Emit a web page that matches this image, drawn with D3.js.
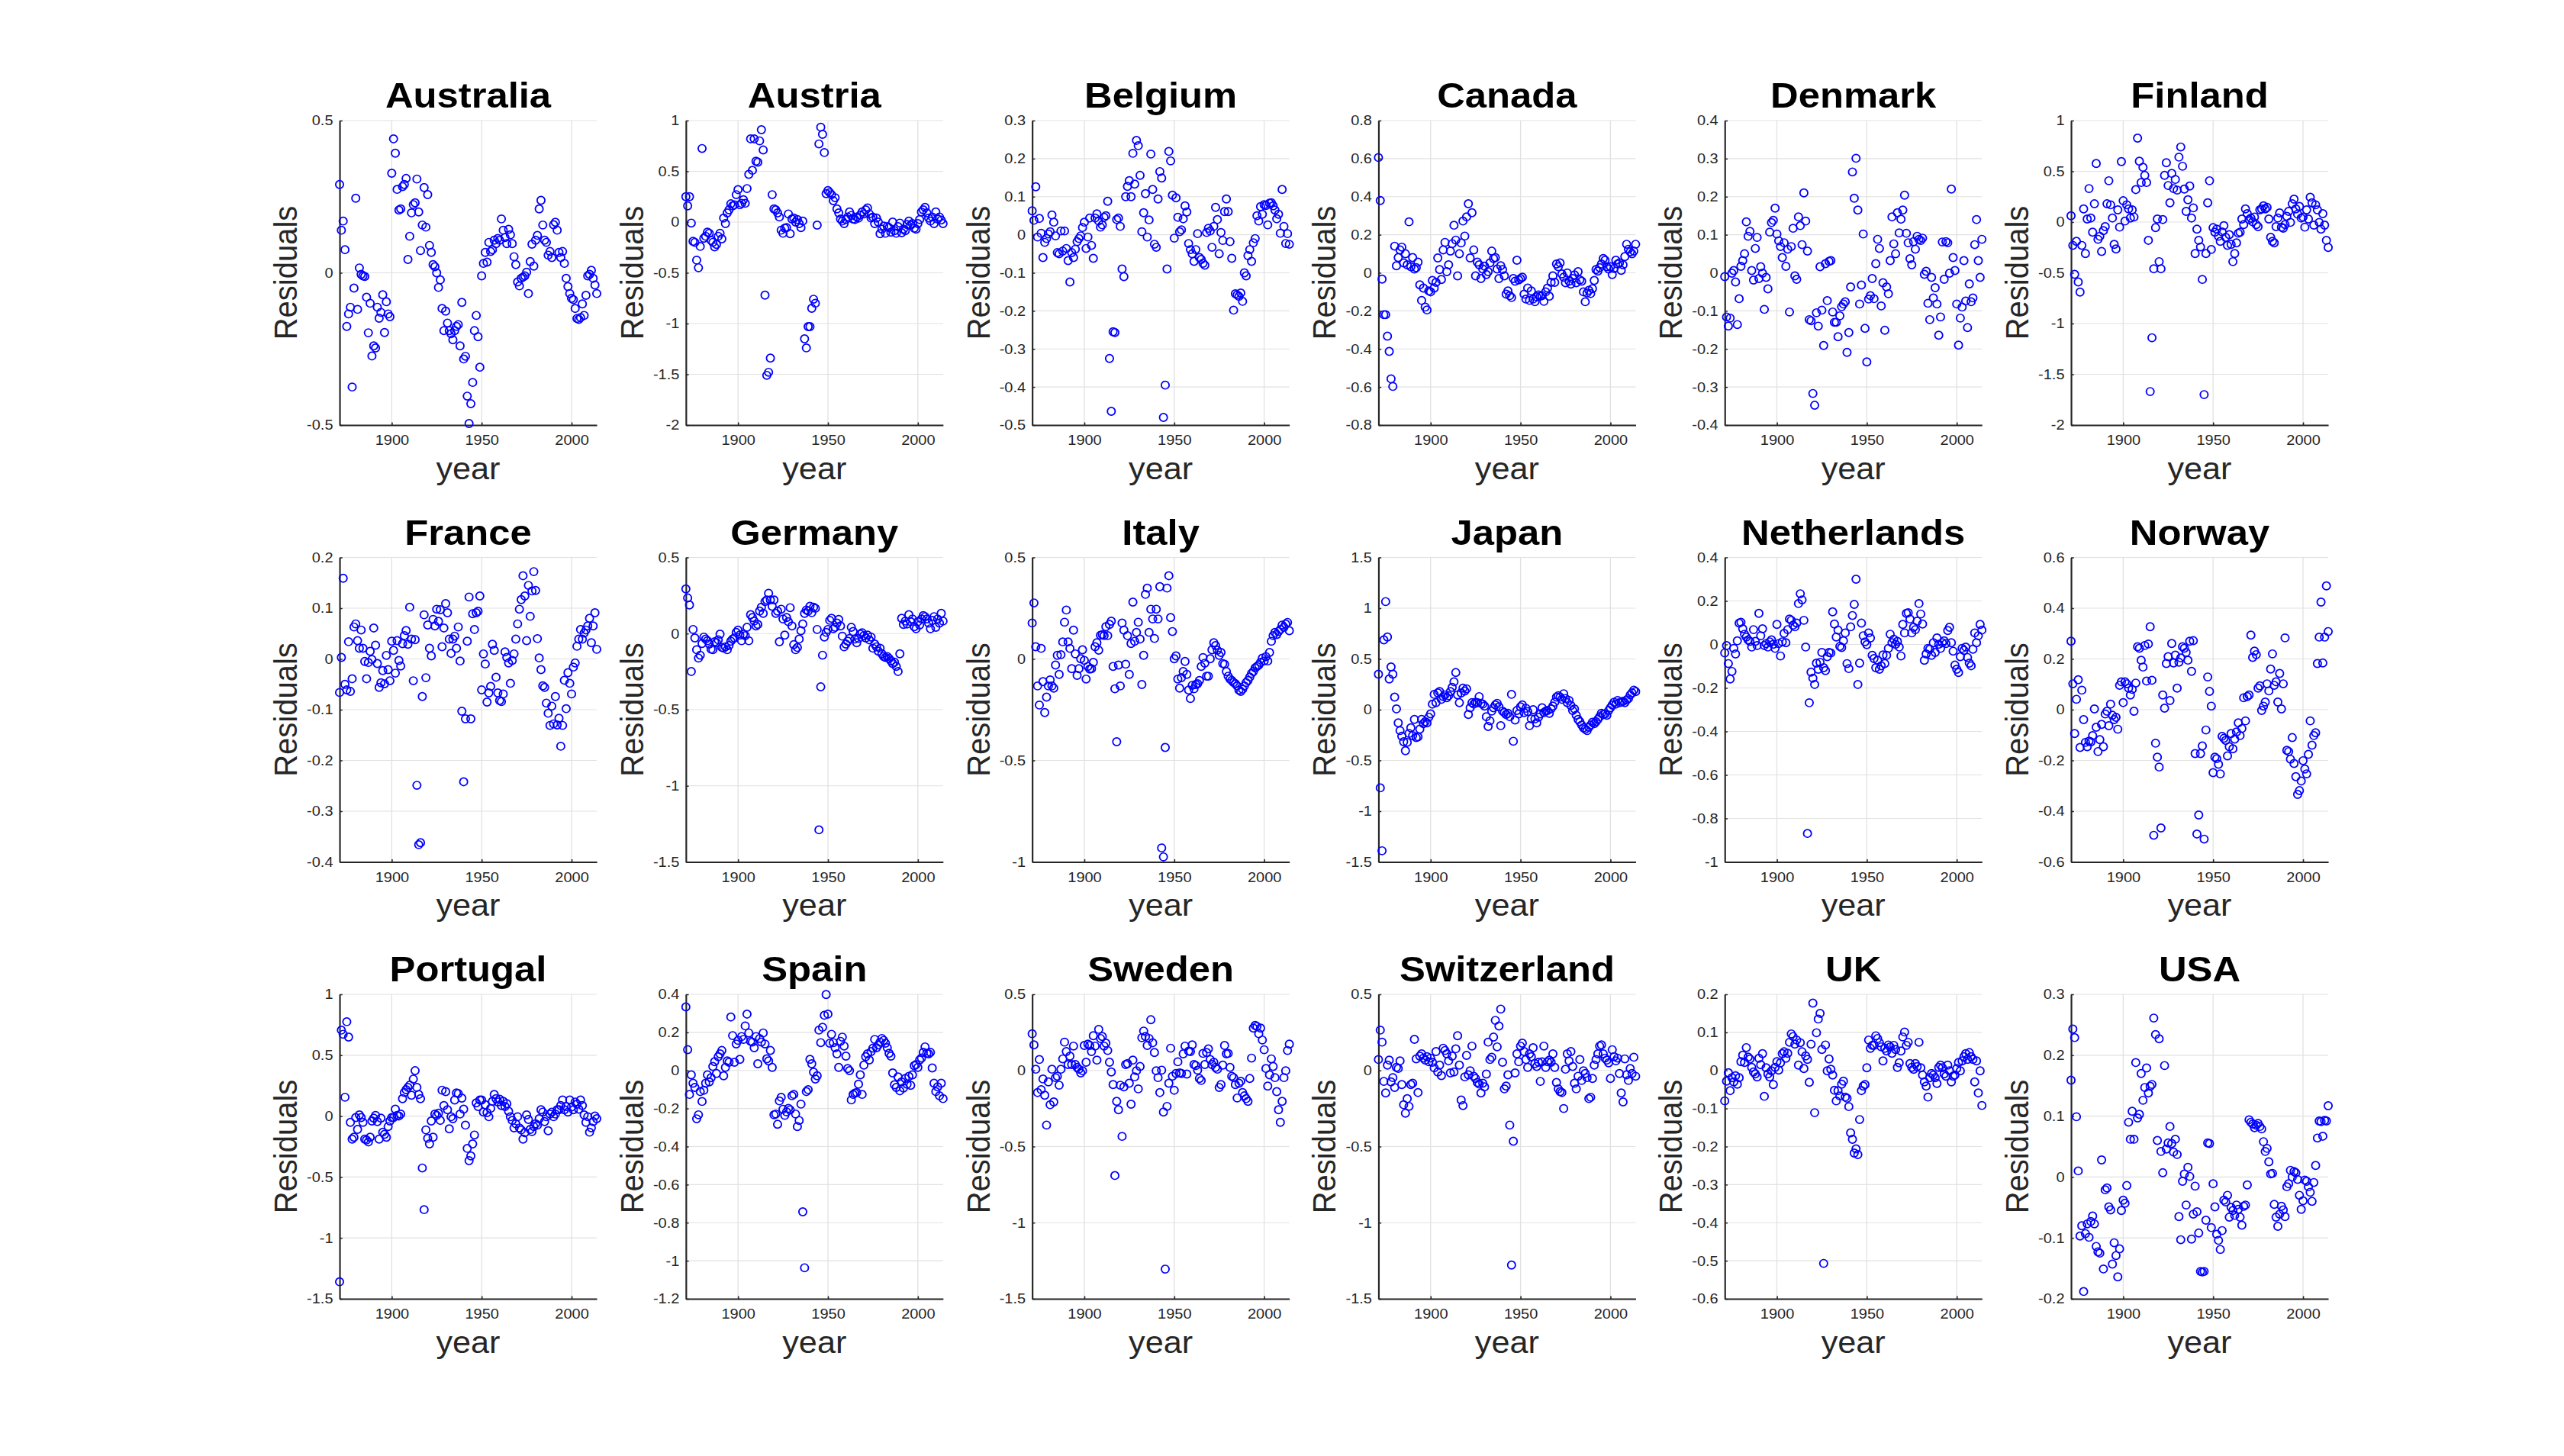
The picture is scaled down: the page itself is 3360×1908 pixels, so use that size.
<!DOCTYPE html>
<html>
<head>
<meta charset="utf-8">
<script src="https://cdn.jsdelivr.net/npm/d3@7"></script>
<style>
  body { margin: 0; background: #fff; }
  svg { display: block; }
  text { font-family: "Liberation Sans", Arial, Helvetica, sans-serif; }
</style>
</head>
<body>
<div id="chart"></div>
<script>
// --- datos: residuos anuales 1871-2014 por país ---
const countries = ['Australia','Austria','Belgium','Canada','Denmark','Finland',
  'France','Germany','Italy','Japan','Netherlands','Norway',
  'Portugal','Spain','Sweden','Switzerland','UK','USA'];

const years = d3.range(1871, 2015);
const xTicks = [1900, 1950, 2000];

const australia = [0.29,0.14,0.17,0.076,-0.176,-0.135,-0.113,-0.375,-0.05,
  0.245,-0.12,0.016,-0.005,-0.01,-0.012,-0.08,-0.197,-0.1,-0.273,
  -0.24,-0.247,-0.113,-0.149,-0.13,-0.072,-0.196,-0.095,-0.135,-0.144,
  0.327,0.44,0.393,0.274,0.206,0.21,0.283,0.29,0.31,0.044,
  0.12,0.197,0.224,0.23,0.308,0.2,0.073,0.157,0.28,0.15,
  0.257,0.09,0.067,0.027,0.02,0.0,-0.048,-0.023,-0.117,-0.19,
  -0.126,-0.165,-0.19,-0.2,-0.22,-0.19,-0.176,-0.17,-0.24,-0.097,
  -0.283,-0.274,-0.405,-0.495,-0.43,-0.36,-0.19,-0.14,-0.21,-0.31,
  -0.01,0.031,0.067,0.035,0.1,0.07,0.076,0.107,0.096,0.113,
  0.107,0.177,0.14,0.116,0.096,0.143,0.125,0.096,0.053,0.027,
  -0.03,-0.043,-0.018,-0.014,-0.01,0.002,-0.068,0.037,0.094,0.022,
  0.107,0.123,0.21,0.238,0.157,0.107,0.1,0.058,0.07,0.05,
  0.158,0.166,0.14,0.067,0.05,0.07,0.031,-0.018,-0.045,-0.068,
  -0.084,-0.088,-0.117,-0.15,-0.153,-0.147,-0.102,-0.14,-0.074,-0.01,
  -0.005,0.008,-0.018,-0.04,-0.068];

const austria = [0.25,0.16,0.25,-0.01,-0.19,-0.2,-0.375,-0.45,-0.24,
  0.725,-0.16,-0.14,-0.1,-0.11,-0.18,-0.2,-0.245,-0.22,-0.14,
  -0.11,-0.165,0.04,-0.015,0.09,0.12,0.18,0.16,0.17,0.27,
  0.32,0.17,0.185,0.22,0.185,0.33,0.47,0.82,0.51,0.82,
  0.6,0.59,0.8,0.91,0.71,-0.72,-1.51,-1.48,-1.34,0.27,
  0.13,0.12,0.09,0.05,-0.08,-0.11,-0.06,-0.055,0.08,-0.115,
  0.03,0.04,0.0,0.025,-0.015,-0.055,0.01,-1.15,-1.24,-1.03,
  -1.03,-0.85,-0.76,-0.8,-0.03,0.77,0.935,0.865,0.685,0.28,
  0.31,0.29,0.27,0.21,0.24,0.13,0.09,0.03,0.01,-0.015,
  0.025,0.05,0.1,0.065,0.03,0.025,0.05,0.04,0.07,0.1,
  0.08,0.12,0.14,0.08,0.04,0.05,-0.015,0.04,0.0,-0.115,
  -0.07,-0.04,-0.11,-0.045,-0.055,-0.1,0.0,-0.085,-0.11,-0.045,
  -0.01,-0.105,-0.07,-0.085,-0.025,0.01,-0.03,-0.015,-0.06,-0.07,
  -0.015,0.025,0.1,0.12,0.145,0.09,0.04,0.01,0.05,-0.015,
  0.1,0.03,0.05,0.02,-0.015];

const belgium = [0.063,0.038,0.126,-0.006,0.043,0.004,-0.06,-0.02,-0.01,
  0.002,0.008,0.052,0.033,-0.003,-0.047,-0.05,0.01,-0.043,0.01,
  -0.036,-0.068,-0.124,-0.047,-0.06,-0.038,-0.018,-0.01,-0.003,0.019,
  0.033,-0.036,-0.006,0.044,-0.028,-0.062,0.044,0.055,0.036,0.02,
  0.026,0.046,0.05,0.088,-0.325,-0.464,-0.255,-0.257,0.04,0.044,
  0.022,-0.09,-0.11,0.1,0.127,0.142,0.1,0.214,0.133,0.248,
  0.234,0.156,0.008,0.058,0.108,-0.006,0.039,0.212,0.119,-0.025,
  -0.033,0.094,0.166,0.149,-0.48,-0.395,-0.09,0.219,0.194,0.104,
  -0.009,0.097,0.046,0.008,0.013,0.042,0.076,0.06,-0.023,-0.039,
  -0.05,-0.07,-0.039,0.003,-0.06,-0.065,-0.075,-0.08,0.006,0.017,
  0.01,-0.033,0.022,0.072,0.04,-0.05,0.006,-0.015,0.061,0.094,
  0.061,-0.018,-0.062,-0.198,-0.155,-0.158,-0.162,-0.153,-0.175,-0.1,
  -0.108,-0.055,-0.039,-0.07,-0.021,-0.01,0.05,0.036,0.074,0.054,
  0.079,0.077,0.026,0.083,0.084,0.076,0.065,0.042,0.054,0.004,
  0.119,0.022,-0.023,0.003,-0.025];

const canada = [0.606,0.38,-0.033,-0.22,-0.22,-0.333,-0.413,-0.557,-0.597,
  0.14,0.037,0.08,0.12,0.135,0.052,0.1,0.042,0.268,0.032,
  0.08,0.02,0.027,0.056,-0.063,-0.145,-0.08,-0.18,-0.195,-0.095,
  -0.1,-0.04,-0.08,-0.05,0.078,0.017,-0.035,0.12,0.16,0.006,
  0.042,0.114,0.153,0.25,0.172,-0.016,0.1,0.157,0.272,0.193,
  0.294,0.363,0.078,0.316,0.12,-0.016,0.056,0.042,-0.03,0.02,
  0.035,-0.009,0.006,0.052,0.114,0.075,0.08,0.02,-0.03,0.037,
  0.017,-0.016,-0.112,-0.095,-0.12,-0.13,-0.03,-0.044,0.066,-0.037,
  -0.03,-0.023,-0.112,-0.138,-0.08,-0.145,-0.095,-0.138,-0.152,-0.126,
  -0.116,-0.123,-0.12,-0.15,-0.1,-0.08,-0.123,-0.05,-0.016,-0.05,
  0.046,0.032,0.052,-0.006,-0.023,-0.052,-0.001,-0.044,-0.059,-0.03,
  -0.011,-0.052,0.006,-0.037,-0.044,-0.1,-0.152,-0.106,-0.092,-0.109,
  -0.083,-0.04,0.017,0.009,0.027,0.046,0.075,0.066,0.032,0.02,
  0.032,-0.009,0.023,0.066,0.046,0.052,0.013,0.042,0.085,0.15,
  0.124,0.11,0.1,0.114,0.15];

const denmark = [-0.01,-0.116,-0.14,-0.119,-0.001,0.006,-0.024,-0.136,-0.068,
  0.017,0.032,0.05,0.134,0.096,0.109,0.006,-0.019,0.064,0.093,
  -0.015,0.016,-0.001,-0.096,-0.012,-0.042,0.107,0.132,0.138,0.17,
  0.102,0.084,0.069,0.04,0.079,0.017,0.062,-0.103,0.069,0.117,
  -0.008,-0.017,0.147,0.124,0.074,0.21,0.136,0.057,-0.123,-0.126,
  -0.317,-0.348,-0.105,-0.14,0.016,-0.098,-0.191,0.024,-0.073,0.03,
  0.032,-0.103,-0.13,-0.13,-0.168,-0.113,-0.089,-0.082,-0.076,-0.209,
  -0.157,-0.037,0.265,0.196,0.301,0.165,-0.082,-0.032,0.102,-0.146,
  -0.234,-0.069,-0.06,-0.015,-0.068,0.024,0.088,0.064,-0.087,-0.026,
  -0.151,-0.037,-0.055,0.032,0.147,0.076,0.05,0.158,0.105,0.141,
  0.165,0.204,0.104,0.079,0.037,0.021,0.082,0.062,0.096,0.088,
  0.085,0.091,-0.004,0.004,-0.08,-0.123,-0.012,-0.066,-0.039,-0.082,
  -0.164,-0.116,0.081,-0.017,0.082,0.079,-0.001,0.22,0.04,0.006,
  -0.082,-0.19,-0.119,-0.09,0.032,-0.074,-0.144,-0.029,-0.076,-0.066,
  0.074,0.14,0.032,-0.012,0.088];

const finland = [0.062,-0.23,-0.515,-0.19,-0.59,-0.69,-0.23,0.13,-0.31,
  0.03,0.33,0.04,-0.1,0.18,0.577,-0.17,-0.14,-0.29,-0.085,
  -0.045,0.18,0.407,0.17,0.04,-0.22,-0.265,0.12,-0.05,0.596,
  0.21,0.01,0.17,0.13,0.04,0.12,0.05,0.32,0.827,0.6,
  0.39,0.54,0.46,0.39,-0.18,-1.67,-1.14,-0.46,-0.055,0.03,
  -0.39,-0.46,0.025,0.46,0.585,0.36,0.19,0.48,0.33,0.42,
  0.315,0.64,0.74,0.55,0.325,0.105,0.22,0.355,0.04,0.14,
  -0.31,-0.07,-0.18,-0.245,-0.565,-1.7,-0.31,0.19,0.407,-0.27,
  -0.055,-0.1,-0.07,-0.14,-0.19,-0.097,-0.035,-0.15,-0.23,-0.124,
  -0.22,-0.39,-0.31,-0.205,-0.11,-0.1,0.03,-0.025,0.13,0.083,
  0.025,0.04,0.003,0.05,-0.025,-0.045,0.12,0.13,0.16,0.13,
  0.145,0.03,-0.15,-0.19,-0.205,-0.045,0.04,0.09,-0.05,-0.06,
  -0.025,0.056,0.105,-0.003,0.18,0.226,0.13,0.078,0.154,0.04,
  0.05,-0.05,0.12,0.03,0.245,0.19,-0.03,0.17,0.12,-0.003,
  -0.07,0.083,-0.03,-0.18,-0.25];

const france = [-0.066,0.003,0.159,-0.05,-0.061,0.034,-0.064,-0.039,0.063,
  0.069,0.036,0.021,0.057,0.021,-0.005,-0.039,-0.007,0.015,-0.001,
  0.061,0.027,-0.009,-0.056,-0.047,-0.023,-0.049,0.007,-0.021,-0.043,
  0.035,0.017,-0.028,0.036,-0.003,-0.014,0.03,0.046,0.056,0.029,
  0.102,0.039,-0.043,0.038,-0.249,-0.366,-0.362,-0.074,0.087,-0.037,
  0.067,0.021,0.006,0.078,0.065,0.098,0.074,0.097,0.024,0.061,
  0.109,0.091,0.039,0.011,0.039,0.045,0.021,0.063,-0.004,-0.103,
  -0.242,-0.118,0.035,0.122,-0.118,0.089,0.058,0.091,0.094,0.124,
  -0.061,0.01,-0.01,-0.085,-0.067,-0.054,0.029,0.017,-0.036,-0.067,
  -0.082,-0.084,-0.069,0.014,0.003,-0.008,-0.048,-0.003,0.01,0.039,
  0.069,0.098,0.117,0.164,0.124,0.036,0.145,0.084,0.134,0.172,
  0.135,0.04,0.002,-0.021,-0.053,-0.056,-0.087,-0.107,-0.131,-0.093,
  -0.128,-0.074,-0.13,-0.117,-0.172,-0.131,-0.042,-0.098,-0.027,-0.048,
  -0.069,-0.016,-0.008,0.025,0.039,0.058,0.039,0.051,0.057,0.065,
  0.08,0.032,0.065,0.091,0.019];

const germany = [0.293,0.234,0.188,-0.249,0.027,-0.029,-0.106,-0.161,-0.142,
  -0.065,-0.023,-0.036,-0.047,-0.069,-0.102,-0.106,-0.054,-0.06,-0.041,
  -0.004,-0.091,-0.096,-0.087,-0.106,-0.078,-0.05,-0.036,-0.029,0.008,
  0.023,-0.01,-0.047,-0.004,-0.014,0.041,-0.047,0.124,0.105,0.082,
  0.05,0.06,0.148,0.173,0.133,0.21,0.221,0.265,0.221,0.179,
  0.221,0.133,0.148,-0.054,0.16,0.096,-0.01,0.105,0.078,0.17,
  0.05,-0.073,-0.106,-0.091,-0.036,0.019,0.063,0.133,0.155,0.148,
  0.179,0.137,0.173,0.166,0.027,-1.289,-0.35,-0.142,-0.023,0.008,
  0.027,0.087,0.1,0.032,0.041,0.069,0.093,0.05,-0.017,-0.087,
  -0.069,-0.05,-0.032,0.041,0.014,-0.036,-0.06,-0.032,-0.004,0.005,
  -0.014,-0.029,-0.01,-0.041,-0.023,-0.096,-0.069,-0.087,-0.115,-0.096,
  -0.133,-0.151,-0.157,-0.151,-0.164,-0.179,-0.197,-0.188,-0.216,-0.249,
  -0.133,0.1,0.06,0.082,0.063,0.124,0.078,0.096,0.045,0.032,
  0.078,0.056,0.096,0.118,0.111,0.096,0.069,0.032,0.087,0.111,
  0.041,0.096,0.069,0.133,0.082];

const italy = [0.177,0.276,0.06,-0.133,-0.227,0.052,-0.112,-0.264,-0.188,
  -0.133,-0.103,-0.133,-0.144,-0.03,0.018,-0.076,0.021,0.084,0.181,
  0.241,0.084,0.052,-0.048,0.142,0.025,-0.081,-0.048,0.001,0.045,
  -0.007,-0.099,-0.037,-0.05,-0.048,-0.017,0.06,0.08,0.043,0.117,
  0.12,0.115,0.159,0.115,0.17,0.186,-0.037,-0.147,-0.408,-0.03,
  -0.133,0.177,0.142,-0.026,0.115,-0.076,0.076,0.28,0.087,0.131,
  0.181,0.098,-0.126,0.018,0.318,0.349,0.131,0.245,0.197,0.101,
  0.245,0.197,0.356,-0.931,-0.975,-0.436,0.349,0.41,0.204,0.135,
  0.001,0.015,-0.099,-0.144,-0.092,-0.062,-0.012,-0.076,-0.153,-0.195,
  -0.13,-0.147,-0.126,-0.122,-0.106,-0.037,0.007,-0.021,-0.085,-0.085,
  0.001,0.045,0.08,0.066,0.043,0.018,0.032,-0.023,-0.026,-0.062,
  -0.085,-0.099,-0.106,-0.116,-0.122,-0.133,-0.153,-0.16,-0.149,-0.133,
  -0.116,-0.106,-0.089,-0.071,-0.062,-0.044,-0.037,-0.03,-0.017,0.004,
  -0.01,0.011,-0.01,0.032,0.087,0.115,0.131,0.12,0.135,0.145,
  0.167,0.156,0.172,0.18,0.139];

const japan = [0.35,-0.77,-1.39,0.688,1.065,0.716,0.303,0.421,0.35,
  0.124,0.008,-0.13,-0.206,-0.261,-0.316,-0.404,-0.322,-0.234,-0.179,
  -0.256,-0.096,-0.275,-0.267,-0.192,-0.096,-0.137,-0.118,-0.13,-0.074,
  -0.041,0.055,0.151,0.069,0.165,0.179,0.102,0.129,0.146,0.118,
  0.138,0.179,0.22,0.275,0.366,0.146,0.069,0.165,0.212,0.184,
  0.206,-0.047,0.019,0.069,0.055,0.074,0.069,0.129,0.063,0.055,
  0.036,-0.069,-0.165,-0.11,-0.014,0.019,0.047,0.063,0.028,-0.157,
  -0.014,-0.028,-0.047,-0.036,-0.069,0.151,-0.311,-0.102,-0.008,-0.041,
  0.028,0.047,-0.028,0.014,-0.019,-0.157,-0.091,0.0,-0.091,-0.13,
  -0.074,-0.041,0.019,-0.028,-0.014,-0.008,-0.036,0.008,0.036,0.074,
  0.124,0.138,0.124,0.102,0.157,0.11,0.069,0.091,0.041,-0.008,
  0.008,-0.055,-0.096,-0.118,-0.151,-0.179,-0.192,-0.206,-0.173,-0.151,
  -0.124,-0.137,-0.118,-0.096,-0.069,-0.036,-0.047,-0.041,-0.055,-0.008,
  0.019,0.047,0.074,0.055,0.091,0.069,0.074,0.083,0.069,0.096,
  0.11,0.146,0.165,0.193,0.179];

const netherlands = [-0.039,-0.005,-0.088,-0.159,-0.124,-0.018,-0.044,0.017,0.098,
  0.102,0.072,0.047,0.034,0.021,0.014,-0.012,0.068,0.014,-0.005,
  0.143,0.04,0.072,-0.005,0.004,-0.012,0.012,0.021,0.001,-0.018,
  0.092,0.004,-0.053,0.012,0.051,0.008,0.068,0.117,0.111,0.089,
  0.081,0.098,0.188,0.233,0.205,0.111,-0.012,-0.869,-0.268,-0.127,
  -0.155,-0.184,-0.086,-0.114,-0.082,-0.037,-0.107,-0.12,-0.056,-0.037,
  -0.039,0.15,0.094,0.034,0.066,-0.009,-0.014,0.017,0.053,-0.088,
  -0.111,0.081,0.133,0.184,0.3,-0.184,-0.086,0.098,0.04,0.012,
  -0.001,0.053,0.03,-0.05,-0.065,-0.107,-0.073,-0.114,-0.098,-0.048,
  -0.088,-0.05,-0.018,0.047,0.008,0.024,0.001,0.014,-0.012,-0.053,
  0.092,0.053,0.143,0.146,0.117,0.053,0.079,0.068,0.107,0.188,
  0.14,0.094,-0.073,-0.044,-0.018,-0.022,-0.05,0.008,-0.037,0.03,
  0.001,-0.018,0.008,0.017,0.004,0.064,0.079,0.008,-0.031,-0.095,
  -0.114,-0.129,-0.056,-0.018,-0.027,-0.012,-0.06,-0.086,-0.098,-0.022,
  0.053,0.008,0.04,0.092,0.066];

const norway = [0.27,0.102,-0.094,0.041,0.118,-0.149,0.077,-0.039,-0.129,
  -0.146,-0.124,-0.127,-0.102,0.003,-0.069,-0.165,-0.118,-0.058,-0.146,
  -0.017,-0.006,-0.063,0.022,-0.022,-0.039,-0.03,-0.077,0.096,0.11,
  0.028,0.11,0.102,0.085,0.058,0.08,-0.006,0.105,0.248,0.242,
  0.195,0.168,0.253,0.113,0.259,0.327,0.116,-0.495,-0.132,-0.187,
  -0.226,-0.466,0.058,0.006,0.182,0.209,0.036,0.261,0.184,0.215,
  0.085,0.187,0.204,0.248,0.242,0.226,0.195,0.27,0.151,0.272,
  -0.173,-0.49,-0.415,-0.173,-0.143,-0.51,-0.08,0.129,0.072,0.014,
  -0.248,-0.187,-0.193,-0.215,-0.253,-0.105,-0.113,-0.121,-0.182,-0.146,
  -0.094,-0.154,-0.116,-0.088,-0.052,-0.102,-0.074,0.047,-0.044,0.052,
  0.058,0.294,0.206,0.231,0.217,0.085,0.094,-0.003,0.014,0.03,
  0.102,0.074,0.16,0.22,0.096,0.11,0.03,0.143,0.003,0.102,
  0.283,-0.16,-0.165,-0.195,-0.11,-0.212,-0.264,-0.334,-0.319,-0.281,
  -0.201,-0.234,-0.253,-0.176,-0.044,-0.14,-0.102,-0.091,0.182,0.286,
  0.424,0.184,0.286,0.488,0.308];

const portugal = [-1.36,0.706,0.672,0.155,0.775,0.649,-0.051,-0.189,-0.173,
  -0.012,-0.109,0.01,-0.012,-0.051,-0.189,-0.196,-0.212,-0.173,-0.04,
  -0.017,0.006,-0.045,-0.189,-0.017,-0.132,-0.15,-0.173,-0.086,-0.04,
  -0.012,-0.012,0.057,0.006,0.001,0.017,0.143,0.194,0.217,0.236,
  0.254,0.171,0.304,0.373,0.236,0.178,0.143,-0.426,-0.768,-0.113,
  -0.182,-0.228,-0.04,-0.173,0.017,0.006,0.024,-0.035,0.213,0.087,
  0.201,0.052,-0.104,-0.005,-0.021,0.132,0.19,0.185,0.017,0.148,
  0.057,-0.074,-0.265,-0.366,-0.327,-0.228,-0.155,0.109,0.079,0.132,
  0.132,0.033,0.093,0.029,-0.005,0.064,0.121,0.178,0.143,0.116,
  0.139,0.087,0.121,0.079,0.102,0.04,-0.005,-0.035,-0.097,-0.063,
  -0.005,-0.097,-0.113,-0.189,-0.136,0.01,-0.028,-0.109,-0.127,-0.086,
  -0.063,-0.074,-0.021,0.052,0.033,-0.045,-0.005,-0.12,0.017,0.033,
  -0.005,0.017,0.052,0.052,0.087,0.132,0.052,0.079,0.033,0.132,
  0.075,0.052,0.116,0.098,0.057,0.132,0.087,0.01,-0.051,-0.005,
  -0.132,-0.097,-0.045,0.001,-0.021];

const spain = [0.334,0.109,-0.126,-0.023,-0.067,-0.089,-0.254,-0.233,-0.111,
  -0.163,-0.104,-0.067,-0.023,-0.06,-0.038,0.021,0.046,-0.016,0.072,
  0.087,0.105,-0.028,0.016,0.05,0.043,0.281,0.183,0.043,0.139,
  0.158,0.058,0.178,0.163,0.234,0.296,0.197,0.153,0.149,0.119,
  0.178,0.035,0.168,0.149,0.197,0.139,0.061,0.05,0.105,0.016,
  -0.233,-0.229,-0.283,-0.16,-0.141,-0.204,-0.236,-0.218,-0.199,-0.207,
  -0.133,-0.126,-0.229,-0.295,-0.263,-0.177,-0.743,-1.037,-0.111,-0.101,
  0.058,0.035,-0.009,-0.045,-0.028,0.212,0.146,0.227,0.29,0.399,
  0.296,0.143,0.19,0.146,0.119,0.087,0.016,0.153,0.175,0.128,
  0.075,0.01,-0.001,-0.155,-0.126,-0.119,-0.116,-0.072,-0.023,-0.126,
  0.028,0.072,0.087,0.055,0.099,0.117,0.163,0.119,0.134,0.149,
  0.168,0.158,0.143,0.119,0.09,0.075,-0.013,-0.075,-0.089,-0.034,
  -0.107,-0.06,-0.092,-0.042,-0.072,-0.031,-0.078,-0.023,0.025,0.031,
  0.016,0.055,0.065,0.095,0.124,0.09,0.087,0.095,0.013,-0.067,
  -0.111,-0.086,-0.133,-0.067,-0.148];

const sweden = [0.241,0.168,0.008,-0.145,0.072,-0.126,-0.056,-0.163,-0.359,
  -0.075,-0.225,0.008,-0.207,-0.047,-0.038,-0.097,0.008,0.076,0.186,
  0.124,0.039,0.094,0.039,0.16,0.039,0.02,0.008,-0.016,-0.002,
  0.164,0.054,0.173,0.164,0.124,0.228,0.16,0.068,0.27,0.21,
  0.223,0.16,0.179,0.131,0.054,-0.01,-0.093,-0.69,-0.203,-0.258,
  -0.097,-0.433,-0.108,0.039,0.045,-0.084,-0.222,0.068,-0.042,-0.002,
  -0.121,0.026,0.215,0.259,0.223,0.164,0.21,0.333,0.182,0.118,
  -0.002,-0.047,-0.145,0.002,-0.273,-1.305,-0.236,-0.084,0.146,-0.038,
  -0.13,-0.02,0.057,-0.016,-0.02,0.109,0.16,-0.024,0.127,0.124,
  0.168,0.039,0.032,0.002,-0.053,-0.066,0.112,0.039,0.118,0.142,
  0.072,0.039,0.054,0.02,0.008,-0.112,-0.093,0.035,0.164,0.109,
  0.112,0.02,-0.038,-0.047,-0.093,-0.181,-0.084,-0.071,-0.145,-0.167,
  -0.185,-0.203,-0.053,0.081,0.278,0.296,0.289,0.241,0.278,0.2,
  0.136,0.013,-0.103,-0.029,0.076,0.026,-0.047,-0.139,-0.258,-0.341,
  -0.203,-0.047,-0.002,0.131,0.173];

const switzerland = [0.072,0.265,0.186,-0.072,-0.148,0.035,0.068,-0.075,-0.047,
  -0.112,0.02,0.013,0.063,-0.093,-0.225,-0.281,-0.185,-0.236,-0.093,
  -0.084,0.204,0.076,-0.145,0.094,0.109,0.081,0.068,0.09,0.057,
  0.081,0.054,0.017,0.124,-0.01,0.035,-0.034,0.146,0.131,0.109,
  0.063,-0.016,0.094,-0.01,0.142,0.228,0.035,-0.194,-0.231,-0.042,
  0.099,-0.029,-0.002,0.16,-0.038,-0.053,-0.079,-0.089,-0.148,-0.084,
  -0.108,-0.024,0.186,0.072,0.087,0.219,0.329,0.155,0.292,0.403,
  0.054,-0.121,-0.103,-0.029,-0.359,-1.278,-0.465,-0.016,0.109,0.057,
  0.16,0.179,0.124,0.072,0.02,0.109,0.09,0.149,0.045,0.026,
  0.054,-0.072,0.057,0.16,0.02,0.057,0.068,0.054,0.109,0.02,
  -0.079,-0.121,-0.139,-0.145,-0.25,0.008,0.109,0.063,0.124,0.026,
  -0.084,-0.121,-0.038,0.072,-0.066,-0.002,-0.02,-0.047,-0.185,-0.176,
  -0.053,0.035,0.072,0.109,0.16,0.168,0.109,0.081,0.068,0.05,
  -0.053,0.136,0.09,0.063,0.081,-0.02,-0.148,-0.207,0.076,-0.029,
  -0.066,0.013,-0.02,0.087,-0.038];

const uk = [-0.08,-0.028,-0.006,-0.053,-0.019,-0.03,-0.014,-0.036,-0.019,
  0.023,0.04,0.021,0.06,0.035,0.03,0.008,-0.004,-0.009,-0.017,
  0.032,0.015,0.044,-0.068,0.007,-0.009,-0.017,-0.001,-0.037,0.008,
  0.023,0.001,0.02,0.044,0.049,0.032,0.045,0.074,0.096,0.089,
  0.069,0.08,0.014,0.073,0.049,0.005,0.038,0.029,-0.031,0.069,
  0.177,-0.111,0.099,0.135,0.15,0.055,-0.507,0.067,-0.001,0.03,
  0.003,-0.012,-0.052,-0.08,-0.053,-0.067,-0.036,-0.028,-0.07,-0.073,
  -0.095,-0.164,-0.181,-0.217,-0.206,-0.221,-0.129,-0.053,-0.041,-0.037,
  0.007,0.08,0.058,0.066,0.066,0.091,0.084,0.073,0.062,0.025,
  0.058,0.051,0.067,0.062,0.045,0.066,0.055,0.008,0.02,0.051,
  0.088,0.101,0.066,0.074,0.018,0.008,0.003,0.018,0.01,0.074,
  0.007,-0.012,-0.03,-0.041,-0.07,-0.019,-0.008,-0.012,-0.019,-0.034,
  0.008,0.014,0.007,-0.009,-0.015,0.014,-0.001,-0.03,-0.015,-0.012,
  0.005,0.021,-0.001,0.025,0.036,0.044,0.029,0.047,0.036,0.029,
  -0.03,0.025,-0.059,-0.001,-0.092];

const usa = [0.159,0.243,0.229,0.099,0.01,-0.097,-0.08,-0.188,-0.093,
  -0.077,-0.099,-0.073,-0.064,-0.077,-0.114,-0.123,-0.125,0.028,-0.151,
  -0.021,-0.018,-0.049,-0.054,-0.143,-0.108,-0.129,-0.164,-0.118,-0.055,
  -0.038,-0.043,-0.014,0.09,0.062,0.108,0.062,0.188,0.097,0.103,
  0.17,0.126,0.147,0.179,0.138,0.149,0.152,0.261,0.234,0.06,
  0.227,0.042,0.007,0.183,0.046,0.056,0.083,0.055,0.041,0.062,
  0.037,-0.065,-0.103,-0.007,0.005,-0.046,0.016,0.001,-0.102,-0.061,
  -0.015,-0.057,-0.092,-0.155,-0.156,-0.155,-0.071,0.056,0.055,-0.083,
  -0.011,-0.049,-0.094,-0.104,-0.119,-0.088,-0.038,-0.041,-0.03,-0.066,
  -0.05,-0.055,-0.063,-0.046,-0.053,-0.066,-0.079,-0.048,-0.046,-0.013,
  0.094,0.09,0.087,0.081,0.085,0.088,0.083,0.079,0.058,0.042,
  0.047,0.025,0.005,0.006,-0.045,-0.066,-0.081,-0.061,-0.048,-0.054,
  -0.065,-0.016,-0.011,0.011,0.0,0.009,0.007,-0.004,-0.03,-0.053,
  -0.039,-0.005,-0.007,-0.016,-0.025,-0.04,-0.009,0.019,0.064,0.092,
  0.091,0.067,0.093,0.092,0.117];

const residuals = [australia, austria, belgium, canada, denmark, finland,
  france, germany, italy, japan, netherlands, norway,
  portugal, spain, sweden, switzerland, uk, usa];

// límites y paso de marcas del eje Y de cada panel
const yLimits = [[-0.5,0.5],[-2,1],[-0.5,0.3],[-0.8,0.8],[-0.4,0.4],[-2,1],
  [-0.4,0.2],[-1.5,0.5],[-1,0.5],[-1.5,1.5],[-1,0.4],[-0.6,0.6],
  [-1.5,1],[-1.2,0.4],[-1.5,0.5],[-1.5,0.5],[-0.6,0.2],[-0.2,0.3]];
const yStep = [0.5,0.5,0.1,0.2,0.1,0.5,
  0.1,0.5,0.5,0.5,0.2,0.2,
  0.5,0.2,0.5,0.5,0.1,0.1];

// === LAYOUT ===
const W = 3360, H = 1908;
const SX = 1.08;              // el texto original está algo estirado en horizontal
const col0 = 445, colStep = 453.8, axW = 337;
const row0 = 158, rowStep = 572.5, axH = 399;
const axisColor = '#262626';
const gridColor = '#e1e1e1';
const markerR = 5.1;
const fmt = v => String(+v.toFixed(2));

const svg = d3.select('#chart').append('svg')
  .attr('width', W).attr('height', H);
svg.append('rect').attr('width', W).attr('height', H).attr('fill', '#fff');
const root = svg.append('g').attr('transform', `scale(${SX},1)`);

const w = axW / SX;

countries.forEach((name, k) => {
  const col = k % 6, row = Math.floor(k / 6);
  const g = root.append('g')
    .attr('transform', `translate(${(col0 + col * colStep) / SX},${row0 + row * rowStep})`);

  const x = d3.scaleLinear().domain([1871, 2014]).range([0, w]);
  const y = d3.scaleLinear().domain(yLimits[k]).range([axH, 0]);
  const [lo, hi] = yLimits[k];
  const yTicks = d3.range(Math.round((hi - lo) / yStep[k]) + 1).map(i => +(lo + i * yStep[k]).toFixed(3));

  // rejilla
  g.append('g').selectAll('line').data(yTicks).join('line')
    .attr('x1', 0).attr('x2', w)
    .attr('y1', d => y(d)).attr('y2', d => y(d))
    .attr('stroke', gridColor).attr('stroke-width', 1.2);
  g.append('g').selectAll('line').data(xTicks).join('line')
    .attr('x1', d => x(d)).attr('x2', d => x(d))
    .attr('y1', 0).attr('y2', axH)
    .attr('stroke', gridColor).attr('stroke-width', 1.2);

  // ejes
  const yAxis = g.append('g')
    .call(d3.axisLeft(y).tickValues(yTicks).tickFormat(fmt)
      .tickSizeInner(-3.5).tickSizeOuter(0).tickPadding(8.5 / SX));
  const xAxis = g.append('g').attr('transform', `translate(0,${axH})`)
    .call(d3.axisBottom(x).tickValues(xTicks).tickFormat(d3.format('d'))
      .tickSizeInner(-3.5).tickSizeOuter(0).tickPadding(13));
  [yAxis, xAxis].forEach(a => {
    a.select('.domain').attr('stroke', axisColor).attr('stroke-width', 2);
    a.selectAll('.tick line').attr('stroke', axisColor).attr('stroke-width', 1.5);
    a.selectAll('.tick text')
      .attr('fill', axisColor)
      .style('font-size', '18.5px')
      .style('font-family', '"Liberation Sans", Arial, sans-serif');
  });

  // puntos (elipses para que queden redondos tras el escalado horizontal)
  g.append('g').selectAll('ellipse')
    .data(residuals[k].map((v, i) => [years[i], v]))
    .join('ellipse')
    .attr('cx', d => x(d[0]))
    .attr('cy', d => y(d[1]))
    .attr('rx', markerR / SX)
    .attr('ry', markerR)
    .attr('fill', 'none')
    .attr('stroke', '#0000ff')
    .attr('stroke-width', 1.7);

  // textos
  g.append('text')
    .attr('x', w / 2).attr('y', -17)
    .attr('text-anchor', 'middle')
    .style('font-size', '47px').style('font-weight', 'bold')
    .attr('fill', '#000')
    .text(name);

  g.append('text')
    .attr('x', w / 2).attr('y', axH + 71)
    .attr('text-anchor', 'middle')
    .style('font-size', '40px')
    .attr('fill', axisColor)
    .text('year');

  g.append('text')
    .attr('transform', `translate(${-56 / SX},${axH / 2}) rotate(-90)`)
    .attr('text-anchor', 'middle')
    .style('font-size', '40px')
    .attr('fill', axisColor)
    .text('Residuals');
});
</script>
</body>
</html>
